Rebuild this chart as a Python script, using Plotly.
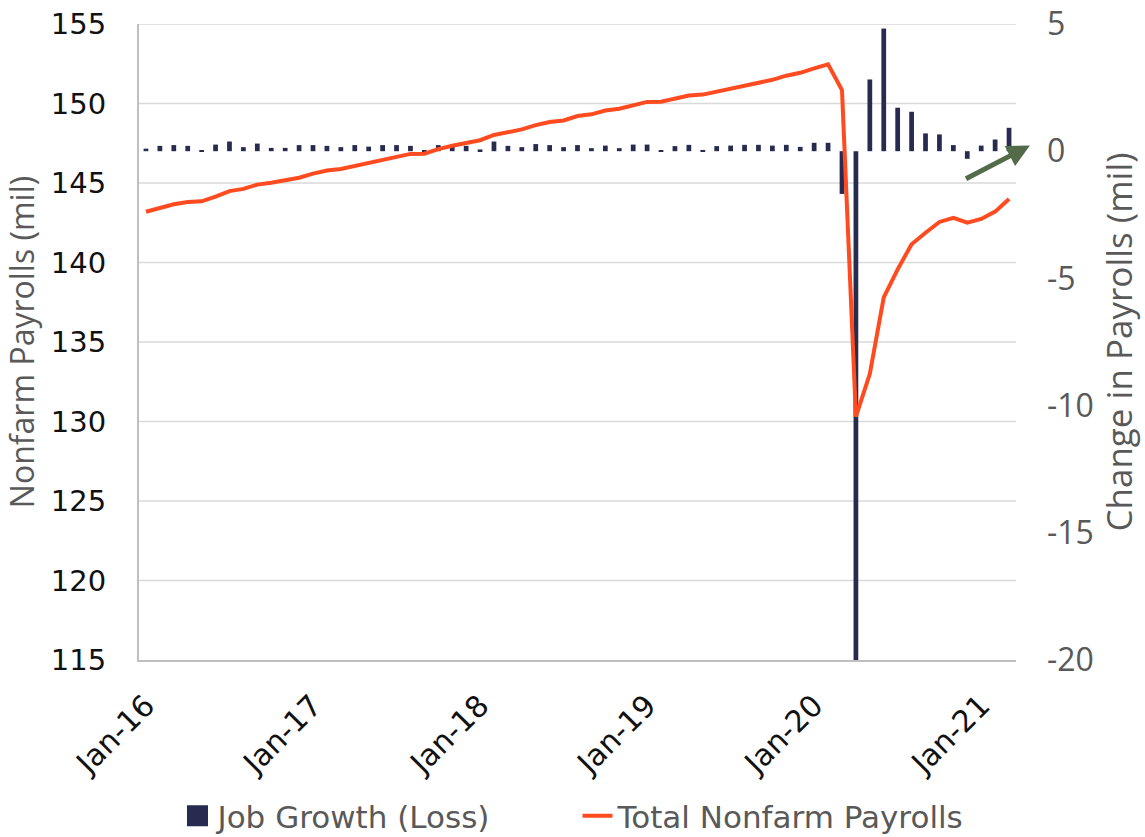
import plotly.graph_objects as go

# Monthly categories, Jan-16 through Mar-21
months = [f"{m}-{y}" for y in range(16, 22) for m in
          ["Jan", "Feb", "Mar", "Apr", "May", "Jun", "Jul", "Aug", "Sep", "Oct", "Nov", "Dec"]][:63]

# Total nonfarm payrolls (millions)
payrolls = [
    143.19, 143.43, 143.66, 143.81, 143.85, 144.14, 144.49, 144.63, 144.90, 145.02, 145.17, 145.33,
    145.59, 145.78, 145.88, 146.07, 146.25, 146.47, 146.66, 146.83, 146.84, 147.13, 147.34, 147.52,
    147.69, 148.02, 148.21, 148.37, 148.64, 148.84, 148.93, 149.21, 149.32, 149.56, 149.67, 149.89,
    150.10, 150.11, 150.28, 150.50, 150.56, 150.74, 150.91, 151.13, 151.33, 151.49, 151.75, 151.93,
    152.21, 152.46, 150.85, 130.30, 133.00, 137.81, 139.57, 141.15, 141.87, 142.55, 142.81, 142.50,
    142.74, 143.20, 144.00,
]

# Month-over-month job growth (loss), millions
job_growth = [
    0.10, 0.21, 0.24, 0.21, 0.04, 0.26, 0.38, 0.16, 0.30, 0.13, 0.13, 0.24,
    0.24, 0.21, 0.16, 0.24, 0.18, 0.24, 0.24, 0.21, 0.02, 0.24, 0.24, 0.21,
    0.07, 0.38, 0.21, 0.16, 0.28, 0.24, 0.16, 0.24, 0.12, 0.22, 0.12, 0.26,
    0.26, 0.02, 0.20, 0.25, 0.05, 0.20, 0.22, 0.25, 0.25, 0.22, 0.25, 0.17,
    0.33, 0.33, -1.68, -20.50, 2.82, 4.82, 1.71, 1.55, 0.70, 0.66, 0.24, -0.30,
    0.22, 0.46, 0.92,
]

x_ticks = ["Jan-16", "Jan-17", "Jan-18", "Jan-19", "Jan-20", "Jan-21"]
left_ticks = [115, 120, 125, 130, 135, 140, 145, 150, 155]
right_ticks = [-20, -15, -10, -5, 0, 5]

NAVY = "#262B4F"
ORANGE = "#FF4B1F"
GREY_TXT = "#595959"
TICK_FONT = "DejaVu Sans"
TITLE_FONT = "Open Sans"

fig = go.Figure()

fig.add_trace(go.Bar(
    x=months, y=job_growth, name="Job Growth (Loss)",
    marker=dict(color=NAVY, line=dict(width=0)),
    yaxis="y", showlegend=False,
))
# Legend entry for the bars, drawn as a larger square swatch
fig.add_trace(go.Scatter(
    x=[None], y=[None], name="Job Growth (Loss)", mode="markers",
    marker=dict(symbol="square", size=16, color=NAVY, line=dict(color=NAVY, width=5)),
    yaxis="y",
))
fig.add_trace(go.Scatter(
    x=months, y=payrolls, name="Total Nonfarm Payrolls",
    mode="lines", line=dict(color=ORANGE, width=4),
    yaxis="y2",
))

# Horizontal gridlines at the left-axis ticks, kept beneath all traces
for t in left_ticks[1:]:
    fig.add_shape(type="line", xref="paper", x0=0, x1=1, yref="y2", y0=t, y1=t,
                  line=dict(color="#D9D9D9", width=1.5), layer="below")

# Upward trend arrow
fig.add_annotation(
    x=63.5, y=0.22, ax=58.8, ay=-1.11,
    xref="x", yref="y", axref="x", ayref="y",
    text="", showarrow=True, arrowhead=2, arrowsize=0.9, arrowwidth=5,
    arrowcolor="#546B4A",
)

fig.update_layout(
    width=1145, height=837,
    margin=dict(l=139, r=129, t=24, b=177, autoexpand=False),
    plot_bgcolor="white", paper_bgcolor="white",
    bargap=0.66,
    showlegend=True,
    legend=dict(orientation="h", x=0.5, xanchor="center", xref="paper",
                y=1 - 816 / 837, yanchor="middle", yref="container",
                font=dict(family=TICK_FONT, size=31, color=GREY_TXT),
                entrywidth=355, entrywidthmode="pixels",
                itemwidth=30, tracegroupgap=0, traceorder="normal"),
    xaxis=dict(
        type="category", range=[-0.5, 62.5], automargin=False,
        tickmode="array", tickvals=x_ticks, ticktext=x_ticks,
        tickangle=-45, tickfont=dict(family=TICK_FONT, size=30, color="#111111"),
        ticklabelstandoff=14,
        showgrid=False, showline=True, linecolor="#BFBFBF", linewidth=2,
        ticks="", zeroline=False,
    ),
    yaxis=dict(
        side="right", range=[-20, 5], automargin=False,
        tickmode="array", tickvals=right_ticks, ticktext=[str(v) for v in right_ticks],
        tickfont=dict(family=TITLE_FONT, size=32, color=GREY_TXT),
        ticklabelstandoff=30,
        title=dict(text="Change in Payrolls (mil)",
                   font=dict(family=TITLE_FONT, size=35, color=GREY_TXT), standoff=14),
        showgrid=False, zeroline=False, showline=False, ticks="",
    ),
    yaxis2=dict(
        side="left", overlaying="y", range=[115, 155], automargin=False,
        tickvals=left_ticks,
        tickfont=dict(family=TICK_FONT, size=29, color="#111111"),
        ticklabelstandoff=25,
        title=dict(text="Nonfarm Payrolls (mil)",
                   font=dict(family=TITLE_FONT, size=32, color=GREY_TXT), standoff=16),
        showgrid=False, zeroline=False, showline=True, linecolor="#BFBFBF", linewidth=2,
        ticks="",
    ),
)

fig.write_html("out.html")
